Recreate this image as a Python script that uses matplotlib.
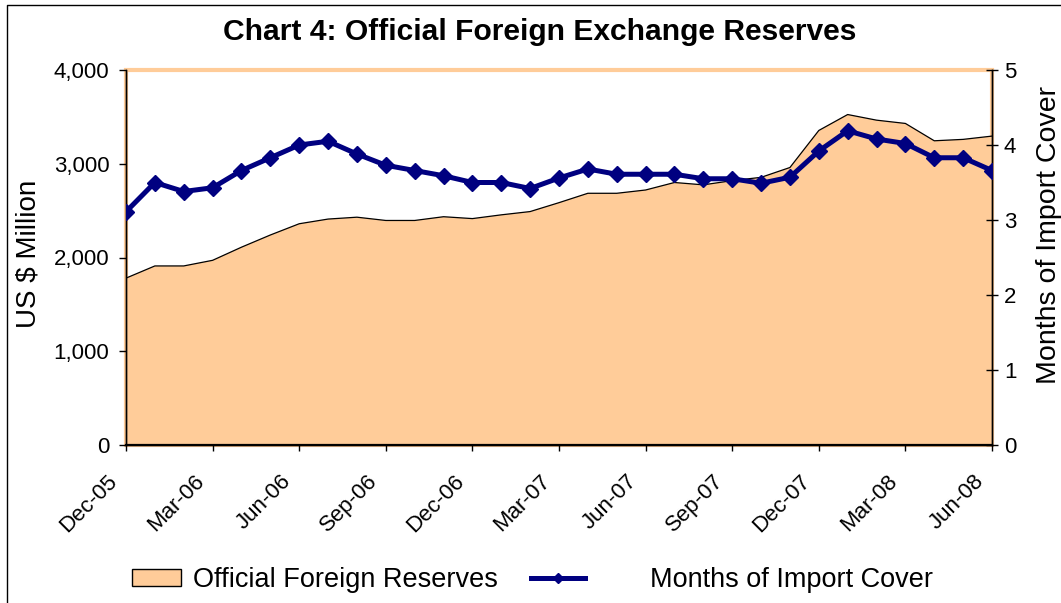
import numpy as np
import matplotlib.pyplot as plt
from matplotlib.patches import Rectangle, Patch
from matplotlib.lines import Line2D
from matplotlib.ticker import FuncFormatter
from matplotlib.transforms import ScaledTranslation

plt.rcParams['font.family'] = ['Liberation Sans', 'DejaVu Sans']

# monthly, Dec-05 .. Jun-08
months = ["Dec-05", "Jan-06", "Feb-06", "Mar-06", "Apr-06", "May-06", "Jun-06",
          "Jul-06", "Aug-06", "Sep-06", "Oct-06", "Nov-06", "Dec-06", "Jan-07",
          "Feb-07", "Mar-07", "Apr-07", "May-07", "Jun-07", "Jul-07", "Aug-07",
          "Sep-07", "Oct-07", "Nov-07", "Dec-07", "Jan-08", "Feb-08", "Mar-08",
          "Apr-08", "May-08", "Jun-08"]

reserves = [1780, 1910, 1910, 1970, 2110, 2240, 2360, 2410, 2430, 2395, 2395,
            2435, 2415, 2455, 2490, 2585, 2685, 2685, 2720, 2800, 2775, 2820,
            2855, 2960, 3355, 3525, 3465, 3430, 3245, 3260, 3295]

import_cover = [3.11, 3.50, 3.38, 3.43, 3.66, 3.83, 4.00, 4.05, 3.88, 3.73, 3.66,
                3.59, 3.50, 3.50, 3.42, 3.56, 3.68, 3.61, 3.61, 3.61, 3.55, 3.55,
                3.49, 3.57, 3.92, 4.19, 4.08, 4.02, 3.83, 3.83, 3.66]

tick_idx = list(range(0, len(months), 3))
tick_lab = [months[i] for i in tick_idx]

peach = '#FFCC99'
navy = '#000080'

fig = plt.figure(figsize=(10.61, 6.03), dpi=100)
ax = fig.add_axes([126/1061, 1-445/603, (992-126)/1061, (445-70)/603])
ax2 = ax.twinx()

x = np.arange(len(months))
ax.fill_between(x, reserves, 0, facecolor=peach, edgecolor='none', zorder=2)
ax.plot(x, reserves, color='black', lw=0.9, zorder=3)
ax2.plot(x, import_cover, color=navy, lw=3.6, marker='D', markersize=8.5, zorder=4)

ax.set_xlim(0, len(months) - 1)
ax.set_ylim(0, 4000)
ax2.set_ylim(0, 5)
ax.set_yticks([0, 1000, 2000, 3000, 4000])
ax.yaxis.set_major_formatter(FuncFormatter(lambda v, p: f"{int(v):,}"))
ax2.set_yticks([0, 1, 2, 3, 4, 5])
ax.set_xticks(tick_idx)
ax.set_xticklabels(tick_lab, rotation=45, ha='right', va='top', rotation_mode='anchor')

ax.tick_params(axis='x', direction='out', length=4.5, width=1, labelsize=16, pad=14)
ax.tick_params(axis='y', direction='out', length=5, width=1, labelsize=16, pad=7)
ax2.tick_params(axis='y', direction='inout', length=9, width=1, labelsize=16, pad=4)

shift = ScaledTranslation(-19/100, 0, fig.dpi_scale_trans)
for lab in ax.get_xticklabels():
    lab.set_transform(lab.get_transform() + shift)

# plot-area border in peach, axis lines black
ax.add_patch(Rectangle((0, 0), 1, 1, transform=ax.transAxes, fill=False,
                       edgecolor=peach, lw=3, zorder=1, clip_on=False))
for a in (ax, ax2):
    a.spines['top'].set_visible(False)
    for s in ('left', 'right', 'bottom'):
        a.spines[s].set_color('black')
        a.spines[s].set_linewidth(1)
ax.spines['bottom'].set_linewidth(1.6)

ax.set_ylabel("US $ Million", fontsize=20)
ax.yaxis.set_label_coords(-0.097, 0.51)
ax2.set_ylabel("Months of Import Cover", fontsize=20.5)
ax2.yaxis.set_label_coords(1.051, 0.56)

fig.text(0.509, 1-32/603, "Chart 4: Official Foreign Exchange Reserves",
         ha='center', va='center', fontsize=21.6, fontweight='bold')

# legends
l1 = fig.legend(handles=[Patch(facecolor=peach, edgecolor='black', lw=1)],
                labels=["Official Foreign Reserves"], loc='center left',
                bbox_to_anchor=(132/1061, 1-580/603), frameon=False, fontsize=19.5,
                handlelength=1.8, handleheight=0.6, handletextpad=0.45,
                borderpad=0, borderaxespad=0)
l2 = fig.legend(handles=[Line2D([], [], color=navy, lw=3.6, marker='D', markersize=5)],
                labels=["Months of Import Cover"], loc='center left',
                bbox_to_anchor=(531/1061, 1-580/603), frameon=False, fontsize=19.5,
                handlelength=2.0, handletextpad=2.4, borderpad=0, borderaxespad=0)

# chart-area frame
fig.add_artist(Line2D([7/1061, 7/1061, 1], [0, 1-5/603, 1-5/603],
                      transform=fig.transFigure, color='black', lw=1))

fig.savefig('out.png', dpi=100)
